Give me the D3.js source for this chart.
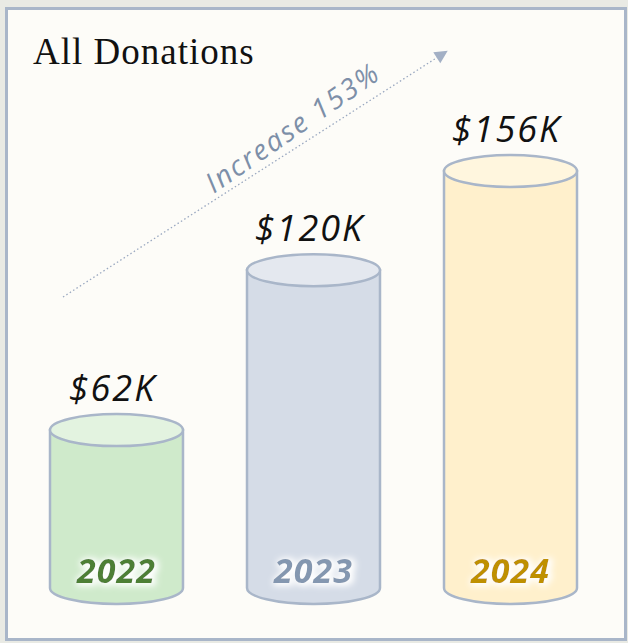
<!DOCTYPE html>
<html>
<head>
<meta charset="utf-8">
<script src="https://cdn.jsdelivr.net/npm/d3@7"></script>
<style>
  html, body { margin: 0; padding: 0; background: #e9eae4; }
  #chart { width: 628px; height: 643px; }
</style>
</head>
<body>
<div id="chart"></div>
<script>
// data
var years = ["2022", "2023", "2024"]
var amounts = [62, 120, 156]          // thousands of dollars
var valueLabels = ["$62K", "$120K", "$156K"]
var bodyColors = ["#cfeacb", "#d5dce7", "#fff0cc"]
var topColors = ["#e3f3e0", "#e4e8ef", "#fff6de"]
var yearColors = ["#4e7f36", "#8497b0", "#bf9000"]
var title = "All Donations"
var increaseLabel = "Increase 153%"

var w = 628, h = 643

var svg = d3.select("#chart")
	.append("svg")
	.attr("width", w)
	.attr("height", h)

// soft white halo behind the year labels
var defs = svg.append("defs")
var glow = defs.append("filter").attr("id", "glow")
	.attr("x", "-20%").attr("y", "-40%").attr("width", "140%").attr("height", "180%")
glow.append("feMorphology").attr("in", "SourceAlpha").attr("operator", "dilate").attr("radius", 2).attr("result", "fat")
glow.append("feFlood").attr("flood-color", "#ffffff").attr("result", "white")
glow.append("feComposite").attr("in", "white").attr("in2", "fat").attr("operator", "in").attr("result", "halo")
glow.append("feGaussianBlur").attr("in", "halo").attr("stdDeviation", 3).attr("result", "soft")
glow.append("feOffset").attr("in", "soft").attr("dx", 2).attr("dy", 1).attr("result", "shift")
var merge = glow.append("feMerge")
merge.append("feMergeNode").attr("in", "shift")
merge.append("feMergeNode").attr("in", "SourceGraphic")

// panel
svg.append("rect")
	.attr("x", 6.5).attr("y", 8.5)
	.attr("width", 619).attr("height", 631)
	.attr("fill", "#fdfcf8")
	.attr("stroke", "#a9b6c9")
	.attr("stroke-width", 3)

svg.append("text")
	.attr("x", 33).attr("y", 64)
	.attr("font-family", "Liberation Serif, DejaVu Serif, serif")
	.attr("font-size", 37)
	.attr("letter-spacing", 1)
	.attr("fill", "#111")
	.text(title)

// scales
var baseY = 588
var ry = 16

var x = d3.scaleBand()
	.domain(years)
	.range([50, 577])
	.paddingInner(0.325)
	.paddingOuter(0)

var y = d3.scaleLinear()
	.domain([0, 160])
	.range([601, 160])

var data = years.map(function(d, i) {
	return { year: d, value: amounts[i], label: valueLabels[i], body: bodyColors[i], top: topColors[i], yc: yearColors[i] }
})

var g = svg.append("g")

var cyl = g.selectAll("g.cyl")
	.data(data)
	.enter().append("g")
	.attr("class", "cyl")

var rx = x.bandwidth() / 2

// body: sides + bottom arc
cyl.append("path")
	.attr("d", function(d) {
		var l = x(d.year), r = l + x.bandwidth(), t = y(d.value)
		return "M" + l + "," + t +
			"L" + l + "," + baseY +
			"A" + rx + "," + ry + " 0 0 0 " + r + "," + baseY +
			"L" + r + "," + t + "Z"
	})
	.attr("fill", function(d) { return d.body })
	.attr("stroke", "#a9b6c9")
	.attr("stroke-width", 2.5)

// top ellipse
cyl.append("ellipse")
	.attr("cx", function(d) { return x(d.year) + rx })
	.attr("cy", function(d) { return y(d.value) })
	.attr("rx", rx)
	.attr("ry", ry)
	.attr("fill", function(d) { return d.top })
	.attr("stroke", "#a9b6c9")
	.attr("stroke-width", 2.5)

// value labels
cyl.append("text")
	.attr("x", function(d) { return x(d.year) + rx - 4 })
	.attr("y", function(d) { return y(d.value) - ry - 13 })
	.attr("text-anchor", "middle")
	.attr("font-family", "Open Sans, sans-serif")
	.attr("font-style", "italic")
	.attr("font-size", 36)
	.attr("letter-spacing", 2)
	.attr("fill", "#111")
	.text(function(d) { return d.label })

// year labels
cyl.append("text")
	.attr("x", function(d) { return x(d.year) + rx })
	.attr("y", baseY - 5)
	.attr("text-anchor", "middle")
	.attr("font-family", "Open Sans, sans-serif")
	.attr("font-style", "italic")
	.attr("font-weight", 700)
	.attr("font-size", 34)
	.attr("letter-spacing", 1)
	.attr("fill", function(d) { return d.yc })
	.attr("filter", "url(#glow)")
	.text(function(d) { return d.year })

// increase arrow
var a0 = [63, 297], a1 = [441, 55]
var ang = Math.atan2(a1[1] - a0[1], a1[0] - a0[0])

svg.append("line")
	.attr("x1", a0[0]).attr("y1", a0[1])
	.attr("x2", a1[0]).attr("y2", a1[1])
	.attr("stroke", "#9aa8c0")
	.attr("stroke-width", 1.3)
	.attr("stroke-dasharray", "1.5,2.5")

var hs = 13
svg.append("path")
	.attr("d", "M0,0L" + (-hs) + "," + (-hs * 0.5) + "L" + (-hs) + "," + (hs * 0.5) + "Z")
	.attr("transform", "translate(" + (a1[0] + 8 * Math.cos(ang)) + "," + (a1[1] + 8 * Math.sin(ang)) + ") rotate(" + (ang * 180 / Math.PI) + ")")
	.attr("fill", "#a3b0c5")

var t = 0.635
var tx = a0[0] + (a1[0] - a0[0]) * t, ty = a0[1] + (a1[1] - a0[1]) * t
svg.append("text")
	.attr("transform", "translate(" + (tx + 9 * Math.sin(ang)) + "," + (ty - 9 * Math.cos(ang)) + ") rotate(" + (ang * 180 / Math.PI - 2) + ")")
	.attr("text-anchor", "middle")
	.attr("font-family", "Open Sans, sans-serif")
	.attr("font-style", "italic")
	.attr("font-size", 28)
	.attr("letter-spacing", 2)
	.attr("fill", "#7d8fa8")
	.text(increaseLabel)
</script>
</body>
</html>
